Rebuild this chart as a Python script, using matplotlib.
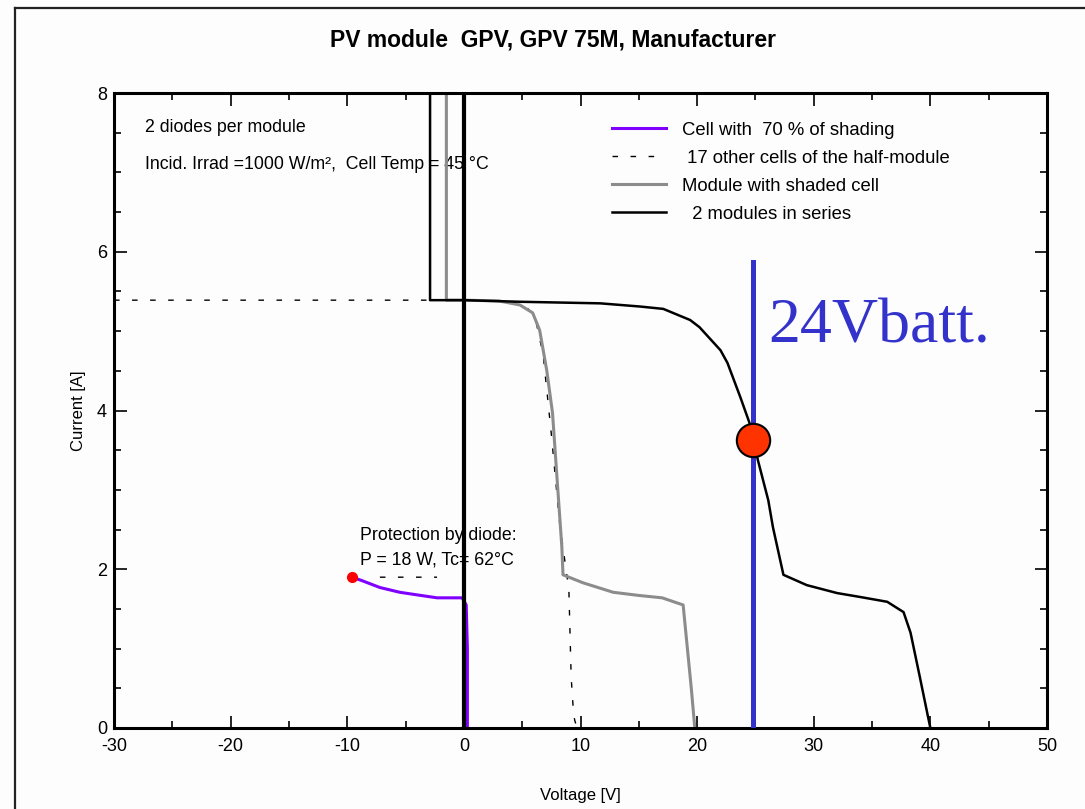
import matplotlib.pyplot as plt
from matplotlib.lines import Line2D
from matplotlib.ticker import MultipleLocator

plt.rcParams['font.family'] = ['Liberation Sans', 'DejaVu Sans']
plt.rcParams['axes.unicode_minus'] = False

# 2 modules in series
series_v = [-2.9, -2.9, 0, 4.8, 11.7, 15.1, 17.1, 19.4, 20.2, 22.0, 22.6, 23.7, 24.5,
            24.9, 25.2, 26.1, 26.5, 27.4, 29.4, 32.0, 34.0, 36.3, 37.7, 38.3, 39.1, 39.8, 40.0]
series_i = [8, 5.39, 5.39, 5.37, 5.35, 5.31, 5.28, 5.14, 5.05, 4.76, 4.60, 4.17, 3.84,
            3.61, 3.38, 2.87, 2.53, 1.93, 1.80, 1.70, 1.65, 1.59, 1.46, 1.20, 0.64, 0.14, 0.0]

# module with shaded cell
module_v = [-1.5, -1.5, 0, 3.0, 4.8, 5.9, 6.5, 7.1, 7.6, 8.0, 8.4, 8.5, 10.2, 12.8,
            15.0, 17.0, 18.8, 19.1, 19.5, 19.8]
module_i = [8, 5.39, 5.39, 5.38, 5.33, 5.23, 5.01, 4.51, 3.97, 3.12, 2.28, 1.93, 1.83, 1.71,
            1.67, 1.64, 1.55, 1.1, 0.5, 0.0]

# 17 other cells of the half-module
others_v = [-30, -2.9, 0, 4.0, 5.2, 6.1, 6.8, 7.5, 8.2, 8.8, 9.0, 9.2, 9.4, 9.5, 9.7,
            float('nan'), -7.2, -2.3]
others_i = [5.39, 5.39, 5.39, 5.37, 5.33, 5.18, 4.7, 3.7, 2.6, 1.95, 1.76, 0.64, 0.19, 0.1, 0.0,
            float('nan'), 1.9, 1.9]

# shaded cell (70 %)
cell_v = [-9.6, -8.8, -7.2, -5.5, -4.6, -2.3, -0.15, 0.2, 0.3, 0.3]
cell_i = [1.9, 1.86, 1.77, 1.71, 1.69, 1.64, 1.64, 1.55, 1.0, 0.0]

zero_v = [0, 0]
zero_i = [0, 8]

batt_v = [24.75, 24.75]
batt_i = [0, 5.87]
op_v, op_i = 24.75, 3.63
diode_v, diode_i = -9.6, 1.9

fig = plt.figure(figsize=(10.85, 8.09), dpi=100)
fig.patch.set_facecolor('#fdfdfd')
ax = fig.add_axes([114 / 1085, 1 - 728 / 809, 933 / 1085, 635 / 809])
ax.set_facecolor('#fdfdfd')

# window frame
fig.add_artist(Line2D([15 / 1085, 1], [1 - 8 / 809] * 2, color='#222222', lw=1.6))
fig.add_artist(Line2D([15 / 1085] * 2, [0, 1 - 8 / 809], color='#222222', lw=1.6))

h_cell, = ax.plot(cell_v, cell_i, color='#8000ff', lw=2.2, label='Cell with  70 % of shading')
h_oth, = ax.plot(others_v, others_i, color='black', lw=1.0, ls=(0, (4, 9)),
                 label=' 17 other cells of the half-module')
h_mod, = ax.plot(module_v, module_i, color='#8c8c8c', lw=2.2, label='Module with shaded cell')
h_ser, = ax.plot(series_v, series_i, color='black', lw=1.8, label='  2 modules in series')
ax.plot(zero_v, zero_i, color='black', lw=3.0)
ax.plot(diode_v, diode_i, marker='o', ms=7, color='#ff0000', mec='#ff0000')

ax.plot(batt_v, batt_i, color='#3333cc', lw=3.6, zorder=4)
ax.plot(op_v, op_i, marker='o', ms=24, color='#ff3300', mec='black', mew=1.5, zorder=5)
ax.text(26.1, 4.86, '24Vbatt.', family=['Liberation Serif'], fontsize=46, color='#3333cc',
        va='baseline', ha='left')

ax.text(-27.3, 7.56, '2 diodes per module', fontsize=12.8, va='center', zorder=1)
ax.text(-27.3, 7.1, 'Incid. Irrad =1000 W/m²,  Cell Temp = 45 °C', fontsize=12.8, va='center', zorder=1)
ax.text(-8.9, 2.43, 'Protection by diode:', fontsize=12.8, va='center', zorder=1)
ax.text(-8.9, 2.12, 'P = 18 W, Tc= 62°C', fontsize=12.8, va='center', zorder=1)

ax.legend(handles=[h_cell, h_oth, h_mod, h_ser], loc='upper left', bbox_to_anchor=(0.534, 0.955),
          frameon=False, fontsize=13.3, handlelength=2.9, handletextpad=0.9, labelspacing=0.6,
          borderpad=0, borderaxespad=0)

ax.set_xlim(-30, 50)
ax.set_ylim(0, 8)
ax.xaxis.set_major_locator(MultipleLocator(10))
ax.xaxis.set_minor_locator(MultipleLocator(5))
ax.yaxis.set_major_locator(MultipleLocator(2))
ax.yaxis.set_minor_locator(MultipleLocator(0.5))
ax.tick_params(which='both', direction='in', top=True, right=True, width=1.2, labelsize=13)
ax.tick_params(axis='x', pad=7)
ax.tick_params(axis='y', pad=5)
ax.tick_params(which='major', length=9)
ax.tick_params(which='minor', length=5)
for s in ax.spines.values():
    s.set_linewidth(2.2)

fig.text(553 / 1085, 1 - 40 / 809, 'PV module  GPV, GPV 75M, Manufacturer', fontsize=16.5,
         fontweight='bold', ha='center', va='center')
ax.set_xlabel('Voltage [V]', fontsize=12, labelpad=24)
ax.set_ylabel('Current [A]', fontsize=12, labelpad=8)

fig.savefig('out.png', dpi=100)
